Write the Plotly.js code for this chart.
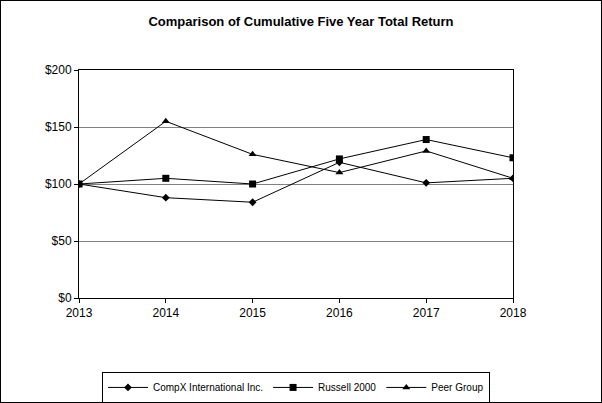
<!DOCTYPE html>
<html>
<head>
<script src="https://cdn.plot.ly/plotly-3.0.1.min.js"></script>
<style>
  body { margin: 0; }
  #chart { width: 600px; height: 401px; border: 1px solid #000; }
</style>
</head>
<body>
<div id="chart"></div>
<script>
const years = ['2013', '2014', '2015', '2016', '2017', '2018']
const compx = [100, 88, 84, 119, 101, 105]
const russell = [100, 105, 100, 122, 139, 123]
const peer = [100, 155, 126, 110, 129, 105]

function series(name, y, symbol) {
  return {
    x: years, y: y, name: name,
    mode: 'lines+markers', type: 'scatter',
    line: { color: '#000', width: 1 },
    marker: { color: '#000', symbol: symbol, size: symbol === 'diamond' ? 6 : 7 }
  }
}

const data = [
  series('CompX International Inc.', compx, 'diamond'),
  series('Russell 2000', russell, 'square'),
  series('Peer Group', peer, 'triangle-up')
]

const layout = {
  width: 600, height: 401,
  margin: { l: 78, r: 88, t: 69, b: 104, autoexpand: false },
  font: { family: 'Arial, Liberation Sans, sans-serif', size: 12, color: '#000' },
  title: { text: '<b>Comparison of Cumulative Five Year Total Return</b>', y: 0.95, yanchor: 'middle', font: { size: 13 } },
  showlegend: true,
  legend: {
    orientation: 'h', x: 0.5, xanchor: 'center',
    yref: 'container', y: 0.075, yanchor: 'top',
    bordercolor: '#000', borderwidth: 1, font: { size: 10 },
    itemwidth: 40
  },
  xaxis: {
    type: 'category', range: [0, 5], showgrid: false,
    showline: true, linecolor: '#000', mirror: true,
    ticks: 'outside', ticklen: 4, tickcolor: '#000',
    tickfont: { size: 12 }, zeroline: false
  },
  yaxis: {
    range: [0, 200], tickvals: [0, 50, 100, 150, 200],
    ticktext: ['$0', '$50', '$100', '$150', '$200'],
    showgrid: true, gridcolor: '#808080',
    showline: true, linecolor: '#000', mirror: true,
    ticks: 'outside', ticklen: 4, tickcolor: '#000', zeroline: false
  },
  plot_bgcolor: '#fff', paper_bgcolor: '#fff'
}

Plotly.newPlot('chart', data, layout, { displayModeBar: false })
</script>
</body>
</html>
